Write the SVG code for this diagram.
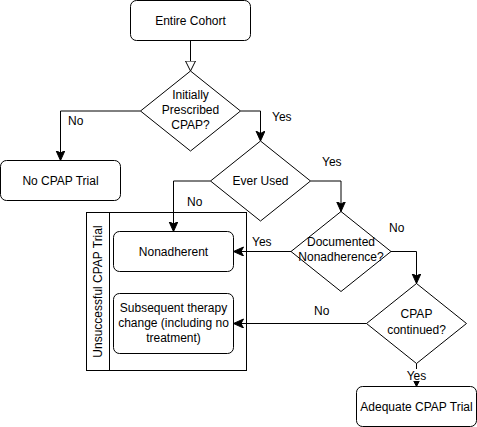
<svg xmlns="http://www.w3.org/2000/svg" width="477" height="427" viewBox="0 0 477 427">
<style>
text{font-family:"Liberation Sans",Arial,sans-serif;font-size:12px;fill:#000;}
.c{text-anchor:middle;}
.box{fill:#fff;stroke:#000;stroke-width:1;}
.edge{fill:none;stroke:#000;stroke-width:1;}
</style>
<defs>
<marker id="arr" markerUnits="userSpaceOnUse" markerWidth="12" markerHeight="10" refX="10" refY="4.5" orient="auto">
<path d="M0,0 L10,4.5 L0,9 L2.5,4.5 Z" fill="#000" stroke="#000" stroke-width="1"/>
</marker>
<marker id="arrs" markerUnits="userSpaceOnUse" markerWidth="8" markerHeight="8" refX="6" refY="3" orient="auto">
<path d="M0,0 L6,3 L0,6 L1.5,3 Z" fill="#000" stroke="#000" stroke-width="1"/>
</marker>
<marker id="open" markerUnits="userSpaceOnUse" markerWidth="12" markerHeight="12" refX="10.5" refY="5.5" orient="auto">
<path d="M0.5,0.5 L10.5,5.5 L0.5,10.5 Z" fill="#fff" stroke="#000" stroke-width="1"/>
</marker>
</defs>
<g id="entire-cohort">
<rect class="box" x="130.5" y="0.5" width="120" height="40" rx="6"/>
<text class="c" x="190.5" y="24.5">Entire Cohort</text>
</g>
<g id="initially-prescribed">
<path class="box" d="M190.5,71 L240.5,111 L190.5,151 L140.5,111 Z"/>
<text class="c" x="190.5" y="99">Initially</text>
<text class="c" x="190.5" y="114">Prescribed</text>
<text class="c" x="190.5" y="129">CPAP?</text>
</g>
<g id="no-cpap-trial">
<rect class="box" x="0.5" y="160.5" width="120" height="40" rx="6"/>
<text class="c" x="60.5" y="185">No CPAP Trial</text>
</g>
<g id="ever-used">
<path class="box" d="M260.5,141 L310.5,181 L260.5,221 L210.5,181 Z"/>
<text class="c" x="260.5" y="185">Ever Used</text>
</g>
<g id="documented-nonadherence">
<path class="box" d="M341,211.5 L391,251.5 L341,291.5 L291,251.5 Z"/>
<text class="c" x="341" y="246">Documented</text>
<text class="c" x="341" y="261">Nonadherence?</text>
</g>
<g id="cpap-continued">
<path class="box" d="M416.5,283.5 L466.5,323.5 L416.5,363.5 L366.5,323.5 Z"/>
<text class="c" x="416.5" y="318">CPAP</text>
<text class="c" x="416.5" y="334">continued?</text>
</g>
<g id="unsuccessful-cpap-trial">
<rect class="box" x="86.5" y="212.5" width="160" height="158"/>
<line class="edge" x1="109.5" y1="212.5" x2="109.5" y2="370.5"/>
<text class="c" transform="translate(102,291.5) rotate(-90)" x="0" y="0">Unsuccessful CPAP Trial</text>
</g>
<g id="nonadherent">
<rect class="box" x="113.5" y="231.5" width="120" height="40" rx="6"/>
<text class="c" x="173.5" y="256">Nonadherent</text>
</g>
<g id="subsequent-therapy">
<rect class="box" x="113.5" y="293.5" width="120" height="60" rx="6"/>
<text class="c" x="173.5" y="312">Subsequent therapy</text>
<text class="c" x="173.5" y="327">change (including no</text>
<text class="c" x="173.5" y="342">treatment)</text>
</g>
<g id="adequate-cpap-trial">
<rect class="box" x="356.5" y="386.5" width="120" height="40" rx="6"/>
<text class="c" x="416.5" y="411">Adequate CPAP Trial</text>
</g>
<g id="connectors">
<path class="edge" d="M190.5,40.5 V71" marker-end="url(#open)"/>
<path class="edge" d="M140.5,111 H60.5 V160.5" marker-end="url(#arr)"/>
<path class="edge" d="M240.5,111 H260.5 V141" marker-end="url(#arr)"/>
<path class="edge" d="M310.5,181 H341 V211.5" marker-end="url(#arr)"/>
<path class="edge" d="M210.5,181 H173.5 V231.5" marker-end="url(#arr)"/>
<path class="edge" d="M291,251.5 H233.5" marker-end="url(#arr)"/>
<path class="edge" d="M391,251.5 H416.5 V283.5" marker-end="url(#arr)"/>
<path class="edge" d="M366.5,323.5 H233.5" marker-end="url(#arr)"/>
<path class="edge" d="M416.5,363.5 V386.5" marker-end="url(#arrs)"/>
<text x="68" y="125">No</text>
<text x="272" y="121">Yes</text>
<text x="322" y="166">Yes</text>
<text x="187" y="206">No</text>
<text x="252" y="246">Yes</text>
<text x="389" y="232">No</text>
<text x="314" y="315">No</text>
<rect x="406" y="369" width="21" height="12" fill="#fff"/>
<text class="c" x="416.5" y="380">Yes</text>
</g>
</svg>
